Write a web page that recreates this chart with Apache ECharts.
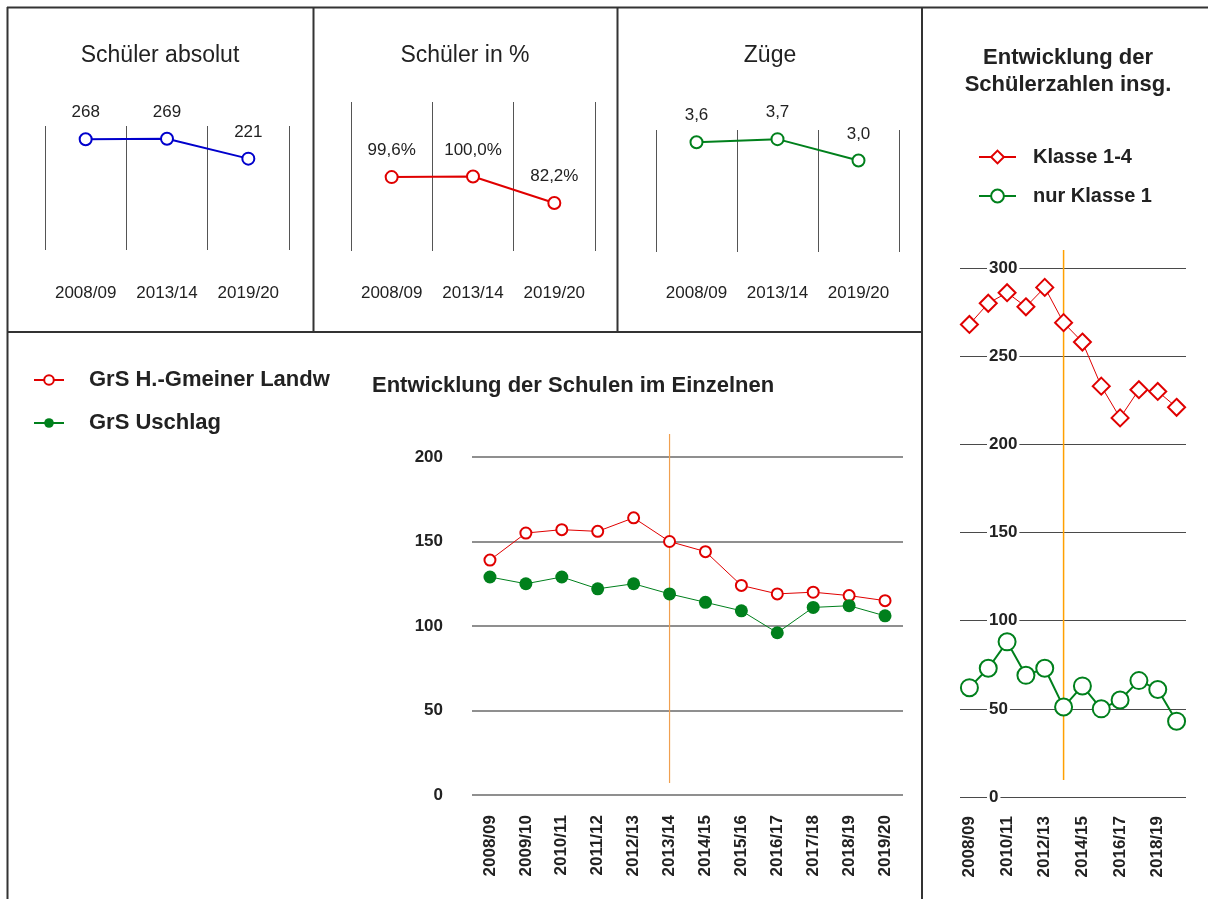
<!DOCTYPE html>
<html><head><meta charset="utf-8">
<script src="https://cdn.jsdelivr.net/npm/echarts@6/dist/echarts.min.js"></script>
<style>html,body{margin:0;padding:0;background:#fff}#c{width:1208px;height:899px}</style>
</head><body><div id="c"></div>
<script>
// ---- data ----
const summaryYears = ['2008/09', '2013/14', '2019/20'];
const pupilsAbs = [268, 269, 221];
const pupilsPct = [99.6, 100.0, 82.2];
const streams = [3.6, 3.7, 3.0];
const years = ['2008/09','2009/10','2010/11','2011/12','2012/13','2013/14','2014/15','2015/16','2016/17','2017/18','2018/19','2019/20'];
const gmeiner = [139, 155, 157, 156, 164, 150, 144, 124, 119, 120, 118, 115];
const uschlag = [129, 125, 129, 122, 125, 119, 114, 109, 96, 111, 112, 106];
const grades14 = [268, 280, 286, 278, 289, 269, 258, 233, 215, 231, 230, 221];
const grade1 = [62, 73, 88, 69, 73, 51, 63, 50, 55, 66, 61, 43];
const markYear = '2013/14';
const schoolNames = ['GrS H.-Gmeiner Landw', 'GrS Uschlag'];
const totalNames = ['Klasse 1-4', 'nur Klasse 1'];

// ---- styling ----
const FF = '"Liberation Sans", Arial, sans-serif';
const TXT = '#222';
const RED = '#e00000', GREEN = '#00801c', BLUE = '#0000cc';
const comma1 = v => v.toFixed(1).replace('.', ',');

const topGrid = [
  {left: 45, width: 244, top: 126, height: 124},
  {left: 351, width: 244, top: 102, height: 149},
  {left: 656, width: 243, top: 130, height: 122}
];
const grids = topGrid.concat([
  {left: 472, right: 305, top: 457, bottom: 104},   // 3 schools
  {left: 472, right: 305, top: 434, bottom: 116},   // 4 school marker line
  {left: 960, right: 22, top: 268, bottom: 102},    // 5 totals
  {left: 960, right: 22, top: 250, bottom: 119}     // 6 totals marker line
]);

const xAxes = [], yAxes = [];
const topMargins = [35, 34, 33];
const topY = [{min: 0, max: 300}, {min: 50, max: 150}, {min: 0, max: 4}];
for (let i = 0; i < 3; i++) {
  xAxes.push({type: 'category', gridIndex: i, data: summaryYears, boundaryGap: true,
    axisLine: {show: false}, axisTick: {show: false},
    splitLine: {show: true, interval: 0, lineStyle: {color: '#555', width: 1}},
    axisLabel: {fontFamily: FF, fontSize: 17, color: TXT, margin: topMargins[i], interval: 0}});
  yAxes.push({type: 'value', gridIndex: i, min: topY[i].min, max: topY[i].max, show: false});
}
// schools
xAxes.push({type: 'category', gridIndex: 3, data: years, boundaryGap: true,
  axisLine: {show: false}, axisTick: {show: false},
  axisLabel: {fontFamily: FF, fontSize: 17, fontWeight: 'bold', color: TXT, rotate: 90, margin: 20, interval: 0}});
yAxes.push({type: 'value', gridIndex: 3, min: 0, max: 200, interval: 50,
  axisLine: {show: false}, axisTick: {show: false},
  splitLine: {lineStyle: {color: '#6a6a6a', width: 1.5}},
  axisLabel: {fontFamily: FF, fontSize: 17, fontWeight: 'bold', color: TXT, margin: 29}});
xAxes.push({type: 'category', gridIndex: 4, data: years, boundaryGap: true, show: false});
yAxes.push({type: 'value', gridIndex: 4, min: 0, max: 1, show: false});
// totals
xAxes.push({type: 'category', gridIndex: 5, data: years, boundaryGap: true,
  axisLine: {show: false}, axisTick: {show: false},
  axisLabel: {fontFamily: FF, fontSize: 17, fontWeight: 'bold', color: TXT, rotate: 90, margin: 19, interval: 1}});
yAxes.push({type: 'value', gridIndex: 5, min: 0, max: 300, interval: 50,
  axisLine: {show: false}, axisTick: {show: false},
  splitLine: {lineStyle: {color: '#4a4a4a', width: 1.2}},
  axisLabel: {inside: true, fontFamily: FF, fontSize: 17, fontWeight: 'bold', color: TXT, margin: 27,
    backgroundColor: '#fff', padding: [0, 2]}});
xAxes.push({type: 'category', gridIndex: 6, data: years, boundaryGap: true, show: false});
yAxes.push({type: 'value', gridIndex: 6, min: 0, max: 1, show: false});

function topSeries(i, data, color, fmt) {
  return {type: 'line', xAxisIndex: i, yAxisIndex: i, data: data, color: color, showAllSymbol: true,
    symbol: 'emptyCircle', symbolSize: 12, lineStyle: {width: 2, color: color},
    itemStyle: {color: color, borderColor: color, borderWidth: 2},
    label: {show: true, position: 'top', distance: 11, fontFamily: FF, fontSize: 17, color: TXT, formatter: p => fmt(p.value)},
    silent: true};
}

const series = [
  topSeries(0, pupilsAbs, BLUE, v => String(v)),
  topSeries(1, pupilsPct, RED, v => comma1(v) + '%'),
  topSeries(2, streams, GREEN, v => comma1(v)),
  {type: 'line', xAxisIndex: 4, yAxisIndex: 4, data: [[markYear, 0], [markYear, 1]], color: '#f0a050',
    symbol: 'none', lineStyle: {color: '#f0a050', width: 1.2}, silent: true},
  {name: schoolNames[0], type: 'line', xAxisIndex: 3, yAxisIndex: 3, data: gmeiner, showAllSymbol: true,
    symbol: 'emptyCircle', symbolSize: 11, color: RED,
    lineStyle: {width: 1, color: RED}, itemStyle: {color: RED, borderColor: RED, borderWidth: 2.5}},
  {name: schoolNames[1], type: 'line', xAxisIndex: 3, yAxisIndex: 3, data: uschlag, showAllSymbol: true,
    symbol: 'circle', symbolSize: 13, color: GREEN,
    lineStyle: {width: 1, color: GREEN}, itemStyle: {color: GREEN}},
  {type: 'line', xAxisIndex: 6, yAxisIndex: 6, data: [[markYear, 0], [markYear, 1]], color: '#ffa000',
    symbol: 'none', lineStyle: {color: '#ffa000', width: 1.5}, silent: true},
  {name: totalNames[0], type: 'line', xAxisIndex: 5, yAxisIndex: 5, data: grades14, showAllSymbol: true,
    symbol: 'emptyDiamond', symbolSize: 17, color: RED,
    lineStyle: {width: 1, color: RED}, itemStyle: {color: RED, borderColor: RED, borderWidth: 2}},
  {name: totalNames[1], type: 'line', xAxisIndex: 5, yAxisIndex: 5, data: grade1, showAllSymbol: true,
    symbol: 'emptyCircle', symbolSize: 17, color: GREEN,
    lineStyle: {width: 2, color: GREEN}, itemStyle: {color: GREEN, borderColor: GREEN, borderWidth: 2.5}}
];

const titleBase = {padding: 0, textAlign: 'center', textStyle: {fontFamily: FF, fontSize: 23, fontWeight: 'normal', color: TXT}};
const titles = [
  Object.assign({}, titleBase, {text: 'Schüler absolut', left: 160, top: 44}),
  Object.assign({}, titleBase, {text: 'Schüler in %', left: 465, top: 44}),
  Object.assign({}, titleBase, {text: 'Züge', left: 770, top: 44}),
  {text: 'Entwicklung der Schulen im Einzelnen', left: 372, top: 375, padding: 0,
    textStyle: {fontFamily: FF, fontSize: 22, fontWeight: 'bold', color: TXT}},
  {text: 'Entwicklung der\nSchülerzahlen insg.', left: 1068, top: 44, padding: 0, textAlign: 'center',
    textStyle: {fontFamily: FF, fontSize: 22, fontWeight: 'bold', color: TXT, lineHeight: 27}}
];

const frame = [
  [7, 7.5, 1208, 7.5], [7.5, 7, 7.5, 899], [313.5, 7, 313.5, 332], [617.5, 7, 617.5, 332],
  [922, 7, 922, 899], [7, 332, 922, 332]
].map(c => ({type: 'line', shape: {x1: c[0], y1: c[1], x2: c[2], y2: c[3]},
  style: {stroke: '#333', lineWidth: 2}, silent: true, z: 100}));

const chart = echarts.init(document.getElementById('c'));
chart.setOption({
  animation: false,
  backgroundColor: '#fff',
  title: titles,
  grid: grids,
  xAxis: xAxes,
  yAxis: yAxes,
  legend: [
    {data: schoolNames, orient: 'vertical', left: 33, top: 369, padding: 0, itemWidth: 30, itemHeight: 12, itemGap: 21,
      selectedMode: false,
      textStyle: {fontFamily: FF, fontSize: 22, fontWeight: 'bold', color: TXT, padding: [0, 0, 0, 20]}},
    {data: totalNames, orient: 'vertical', left: 978, top: 147, padding: 0, itemWidth: 37, itemHeight: 16, itemGap: 19,
      selectedMode: false,
      textStyle: {fontFamily: FF, fontSize: 20, fontWeight: 'bold', color: TXT, padding: [0, 0, 0, 12]}}
  ],
  graphic: frame,
  series: series
});
</script></body></html>
